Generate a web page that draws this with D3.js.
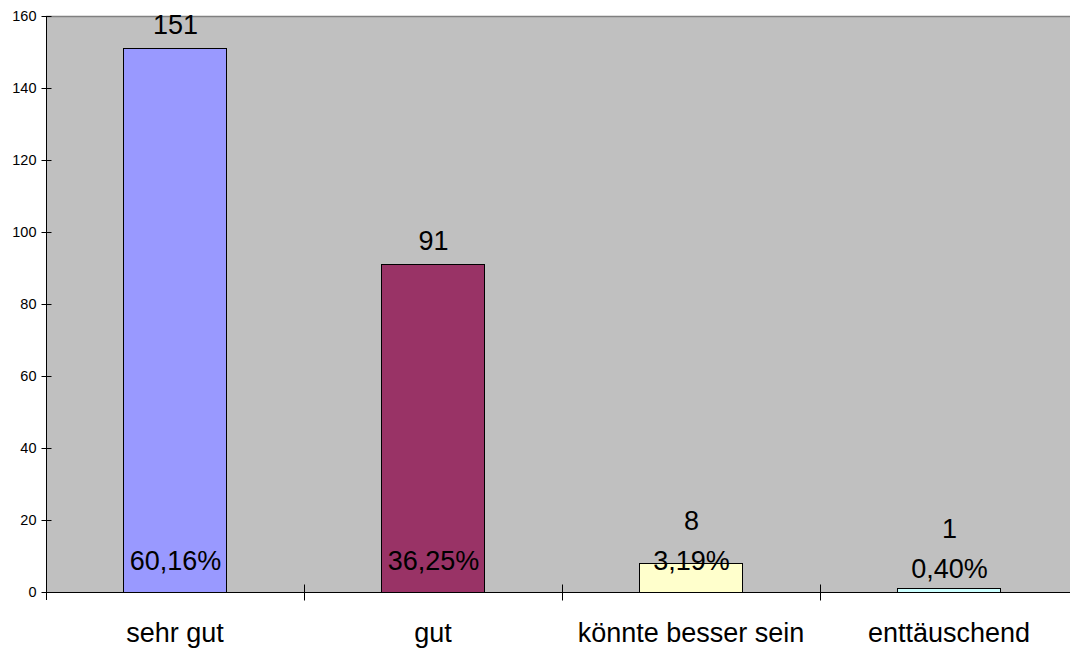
<!DOCTYPE html>
<html><head><meta charset="utf-8">
<script src="https://cdn.jsdelivr.net/npm/d3@7"></script>
<style>body{margin:0;background:#fff}svg{display:block;font-family:"Liberation Sans",Arial,sans-serif}</style>
</head><body><svg id="c" width="1070" height="648"></svg>
<script>
const categories = ["sehr gut", "gut", "könnte besser sein", "enttäuschend"];
const values = [151, 91, 8, 1];
const percents = ["60,16%", "36,25%", "3,19%", "0,40%"];
const colors = ["#9999FF", "#993366", "#FFFFCC", "#CCFFFF"];
const yTicks = [0, 20, 40, 60, 80, 100, 120, 140, 160];

const svg = d3.select("#c");
const L = 46, R = 1078, T = 16, B = 592;
const x = d3.scaleBand().domain(categories).range([L, R]).paddingInner(0.6).paddingOuter(0.3);
const xb = d3.scaleBand().domain(categories).range([L, R]);
const y = d3.scaleLinear().domain([0, 160]).range([B, T]);

svg.append("rect").attr("x", L).attr("y", T).attr("width", R - L).attr("height", B - T).attr("fill", "#C0C0C0");
svg.append("line").attr("x1", L).attr("x2", R).attr("y1", T + 0.5).attr("y2", T + 0.5).attr("stroke", "#808080").attr("stroke-width", 1.5);

svg.selectAll("rect.bar").data(values).join("rect").attr("class", "bar")
  .attr("x", (d, i) => Math.round(x(categories[i])) + 0.5)
  .attr("y", d => Math.round(y(d)) + 0.5)
  .attr("width", Math.round(x.bandwidth()))
  .attr("height", d => B - Math.round(y(d)))
  .attr("fill", (d, i) => colors[i]).attr("stroke", "#000").attr("stroke-width", 1);

// y axis
const ya = svg.append("g").attr("transform", `translate(${L + 0.5},0)`)
  .call(d3.axisLeft(y).tickValues(yTicks).tickSize(5).tickSizeOuter(0).tickPadding(5));
ya.select(".domain").attr("stroke", "#000");
ya.selectAll(".tick line").attr("x2", 5).attr("x1", -5).attr("stroke", "#000");
ya.selectAll(".tick text").attr("font-size", 14.5).attr("fill", "#000").attr("font-family", "Liberation Sans, Arial, sans-serif").attr("x", -10);
ya.select(".domain").attr("d", `M0,${T}V${B + 8}`);

// x axis
const xa = svg.append("g").attr("transform", `translate(0,${B + 0.5})`);
xa.append("line").attr("x1", L).attr("x2", R).attr("stroke", "#000");
const bounds = categories.map(c => xb(c)).concat([R]);
xa.selectAll("line.t").data(bounds.slice(1)).join("line").attr("class", "t")
  .attr("x1", d => Math.round(d) + 0.5).attr("x2", d => Math.round(d) + 0.5).attr("y1", -8).attr("y2", 8).attr("stroke", "#000");
xa.selectAll("text").data(categories).join("text")
  .attr("x", d => xb(d) + xb.bandwidth() / 2).attr("y", 40).attr("dy", "0.35em")
  .attr("text-anchor", "middle").attr("font-size", 27).attr("fill", "#000").text(d => d);

// labels
const pctY = v => (B - y(v) < 10 ? y(v) - 20 : B - 31);
svg.selectAll("text.pct").data(values).join("text").attr("class", "pct")
  .attr("x", (d, i) => x(categories[i]) + x.bandwidth() / 2 + 0.5)
  .attr("y", d => pctY(d)).attr("dy", "0.35em")
  .attr("text-anchor", "middle").attr("font-size", 27).attr("fill", "#000")
  .text((d, i) => percents[i]);
svg.selectAll("text.val").data(values).join("text").attr("class", "val")
  .attr("x", (d, i) => x(categories[i]) + x.bandwidth() / 2 + 0.5)
  .attr("y", d => Math.min(y(d) - 24, pctY(d) - 40)).attr("dy", "0.35em")
  .attr("text-anchor", "middle").attr("font-size", 27).attr("fill", "#000")
  .text(d => d);
</script></body></html>
